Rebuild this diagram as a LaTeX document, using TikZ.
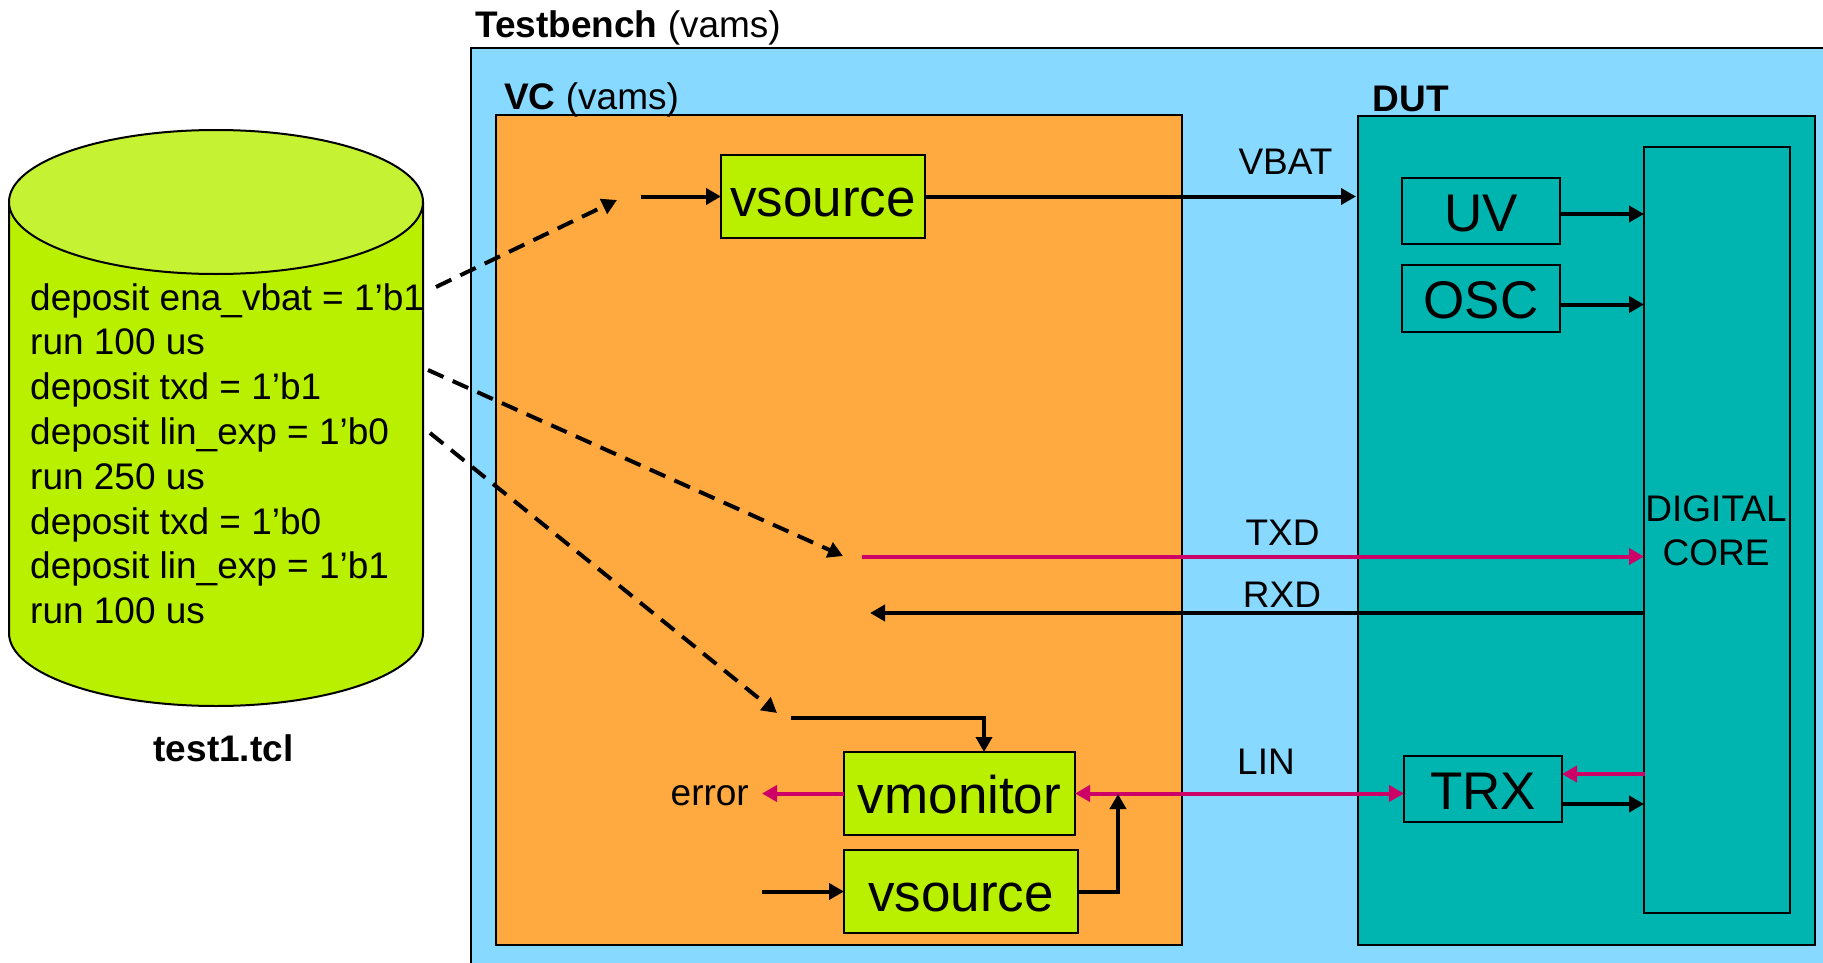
\documentclass[tikz,border=0pt]{standalone}
\usepackage{fontspec}
\setmainfont{Liberation Sans}
\usetikzlibrary{arrows.meta}

\definecolor{benchblue}{HTML}{88D9FF}
\definecolor{vcorange}{HTML}{FEAA40}
\definecolor{dutteal}{HTML}{00B4B0}
\definecolor{limebody}{HTML}{B8F000}
\definecolor{limetop}{HTML}{C5F232}
\definecolor{sigpink}{HTML}{CC0066}

\newcommand\blocktext{\fontsize{53}{60}\selectfont}
\newcommand\labeltext{\fontsize{37}{44.4}\selectfont}
\newcommand\scripttext{\fontsize{37}{44.8}\selectfont}

\tikzset{
  frame/.style={draw=black, line width=2pt, inner sep=0pt, outer sep=0pt},
  block/.style={draw=black, line width=2.5pt, inner sep=0pt, outer sep=0pt,
    font=\blocktext, text height=40pt, text depth=0pt},
  wire/.style={line width=4pt, -{Triangle[length=15pt,width=16pt]}},
  pinkwire/.style={wire, draw=sigpink},
  dashwire/.style={line width=4pt, dash pattern=on 17pt off 10pt,
    -{Triangle[length=15pt,width=16pt]}},
  lbl/.style={font=\labeltext, inner sep=0pt},
}

\begin{document}
\begin{tikzpicture}[x=1pt,y=-1pt]
\useasboundingbox (0,0) rectangle (1823,963);

% containers
\node[frame, fill=benchblue, minimum width=1359pt, minimum height=922pt] (tb) at (1150.5,509) {};
\node[frame, fill=vcorange, minimum width=686pt, minimum height=830pt] (vc) at (839,530) {};
\node[frame, fill=dutteal, minimum width=457pt, minimum height=829pt] (dut) at (1586.5,530.5) {};
\node[frame, fill=dutteal, minimum width=146pt, minimum height=766pt] (core) at (1717,530) {};

\node[lbl, anchor=base west] (tblabel) at (475,38) {\textbf{Testbench} (vams)};
\node[lbl, anchor=base west] (vclabel) at (504,110) {\textbf{VC} (vams)};
\node[lbl, anchor=base west] (dutlabel) at (1372.6,111.7) {\textbf{DUT}};
\node[lbl, align=center] (corelabel) at (1716,531) {DIGITAL\\CORE};

% blocks
\node[block, fill=limebody, minimum width=204pt, minimum height=83pt] (vs1) at (823,196.5) {vsource};
\node[block, fill=limebody, minimum width=231pt, minimum height=83pt] (vmon) at (959.5,793.5) {vmonitor};
\node[block, fill=limebody, minimum width=234pt, minimum height=83pt] (vs2) at (961,891.5) {vsource};
\node[block, fill=dutteal, minimum width=158pt, minimum height=66pt] (uv) at (1481,211) {UV};
\node[block, fill=dutteal, minimum width=158pt, minimum height=67pt] (osc) at (1481,298.5) {OSC};
\node[block, fill=dutteal, minimum width=158pt, minimum height=66pt] (trx) at (1483,789) {TRX};

% script cylinder
\fill[limebody] (9,202) -- (9,633) arc[start angle=180, end angle=360, x radius=207pt, y radius=73pt] -- (423,202) -- cycle;
\draw[line width=2pt] (9,202) -- (9,633) arc[start angle=180, end angle=360, x radius=207pt, y radius=73pt] -- (423,202);
\draw[line width=2pt, fill=limetop] (216,202) ellipse[x radius=207pt, y radius=72pt];
% the base anchor of a multi-line node sits on its last line
\node[lbl, font=\scripttext, anchor=base west, align=left] (script) at (30,623.6)
  {deposit ena\_vbat = 1’b1\\run 100 us\\deposit txd = 1’b1\\deposit lin\_exp = 1’b0\\run 250 us\\deposit txd = 1’b0\\deposit lin\_exp = 1’b1\\run 100 us};
\node[lbl, anchor=base, font=\labeltext\bfseries] (scriptname) at (223.5,761) {test1.tcl};

% connection points
\coordinate (s1) at (436,287);
\coordinate (t1) at (617,200);
\coordinate (s2) at (428,370);
\coordinate (t2) at (843,556);
\coordinate (s3) at (430,433);
\coordinate (t3) at (777,713);
\coordinate (vs1in) at (641,196.5);
\coordinate (vbattip) at (1356,196.5);
\coordinate (txdtail) at (862,556.5);
\coordinate (rxdtip) at (870,613);
\coordinate (m0) at (791,718);
\coordinate (errtip) at (762,793.5);
\coordinate (vs2in) at (762,891.5);
\coordinate (jn) at (1118,794);
\coordinate (trxin) at (1645,774);
\coordinate (trxout) at ([yshift=-15pt]trx.east);
\coordinate (uvout) at ([yshift=-3pt]uv.east);
\coordinate (oscout) at ([yshift=-6pt]osc.east);

% script commands
\draw[dashwire] (s1) -- (t1);
\draw[dashwire] (s2) -- (t2);
\draw[dashwire] (s3) -- (t3);

% signals
\draw[wire] (vs1in) -- (vs1.west);
\draw[wire] (vs1.east) -- (vbattip);
\draw[wire] (uvout) -- (uvout -| core.west);
\draw[wire] (oscout) -- (oscout -| core.west);
\draw[pinkwire] (txdtail) -- (txdtail -| core.west);
\draw[wire] (rxdtip -| core.west) -- (rxdtip);
\draw[wire] (m0) -| ([xshift=24.5pt]vmon.north);
\draw[pinkwire] (vmon.west) -- (errtip);
\draw[wire] (vs2in) -- (vs2.west);
\draw[line width=4pt, draw=sigpink, {Triangle[length=15pt,width=16pt]}-{Triangle[length=15pt,width=16pt]}]
  (vmon.east) -- (vmon.east -| trx.west);
\draw[wire] (vs2.east) -| (jn);
\draw[pinkwire] (trxin) -- (trxin -| trx.east);
\draw[wire] (trxout) -- (trxout -| core.west);

% signal names
\node[lbl, anchor=base] (vbatlabel) at (1285.5,175) {VBAT};
\node[lbl, anchor=base] (txdlabel) at (1282.6,545.7) {TXD};
\node[lbl, anchor=base] (rxdlabel) at (1282,607.7) {RXD};
\node[lbl, anchor=base] (linlabel) at (1266,774) {LIN};
\node[lbl, anchor=base east] (errlabel) at (749,805) {error};
\end{tikzpicture}
\end{document}
